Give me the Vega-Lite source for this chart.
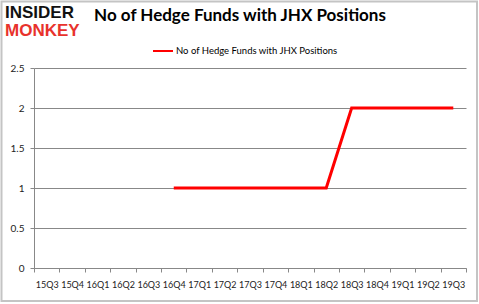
{
  "$schema": "https://vega.github.io/schema/vega-lite/v6.json",
  "width": 432,
  "height": 200,
  "autosize": {"type": "none"},
  "padding": {"left": 34, "top": 68, "right": 13, "bottom": 36},
  "background": "white",
  "title": {"text": "No of Hedge Funds with JHX Positions", "font": "Lato", "fontSize": 17, "fontWeight": "bold", "color": "#000000", "anchor": "middle", "frame": "group", "offset": -24, "dx": -10},
  "config": {
    "view": {"stroke": null},
    "axis": {"labelFont": "Lato", "labelFontSize": 9, "labelColor": "#222222", "domainColor": "#888888", "tickColor": "#888888", "gridColor": "#888888", "title": null}
  },
  "data": {"values": [
    {"q": "15Q3", "v": null}, {"q": "15Q4", "v": null}, {"q": "16Q1", "v": null}, {"q": "16Q2", "v": null},
    {"q": "16Q3", "v": null}, {"q": "16Q4", "v": 1}, {"q": "17Q1", "v": 1}, {"q": "17Q2", "v": 1},
    {"q": "17Q3", "v": 1}, {"q": "17Q4", "v": 1}, {"q": "18Q1", "v": 1}, {"q": "18Q2", "v": 1},
    {"q": "18Q3", "v": 2}, {"q": "18Q4", "v": 2}, {"q": "19Q1", "v": 2}, {"q": "19Q2", "v": 2}, {"q": "19Q3", "v": 2}
  ]},
  "layer": [
    {
      "data": {"values": [{"t": "frame"}]},
      "mark": {"type": "rect", "fill": null, "stroke": "#c4c4c4", "strokeWidth": 2, "clip": false},
      "encoding": {"x": {"value": -32.5}, "x2": {"value": 443}, "y": {"value": -66.5}, "y2": {"value": 233}}
    },
    {
      "mark": {"type": "line", "strokeWidth": 3},
      "encoding": {
        "x": {"field": "q", "type": "ordinal", "sort": null,
              "scale": {"type": "band", "paddingInner": 0, "paddingOuter": 0, "domain": ["15Q3","15Q4","16Q1","16Q2","16Q3","16Q4","17Q1","17Q2","17Q3","17Q4","18Q1","18Q2","18Q3","18Q4","19Q1","19Q2","19Q3"]},
              "axis": {"labelAngle": 0, "tickBand": "extent", "tickSize": 4, "labelPadding": 8, "grid": false, "labelOverlap": false}},
        "y": {"field": "v", "type": "quantitative", "scale": {"domain": [0, 2.5]},
              "axis": {"values": [0, 0.5, 1, 1.5, 2, 2.5], "format": "~g", "tickSize": 4, "labelPadding": 6, "grid": true, "labelFontSize": 10}},
        "color": {"datum": "No of Hedge Funds with JHX Positions", "type": "nominal",
                  "scale": {"range": ["#ff0000"]},
                  "legend": {"title": null, "orient": "none", "legendX": 118, "legendY": -28, "symbolType": "stroke", "symbolSize": 400, "symbolStrokeWidth": 2, "labelOffset": 2, "labelFont": "Lato", "labelFontSize": 9.5, "labelLimit": 300, "labelColor": "#000000"}}
      }
    },
    {
      "data": {"values": [{"t": "INSIDER"}]},
      "mark": {"type": "text", "font": "Liberation Sans", "fontWeight": "bold", "fontSize": 17, "align": "left", "baseline": "alphabetic", "color": "#111111"},
      "encoding": {"text": {"field": "t"}, "x": {"value": -29}, "y": {"value": -50}}
    },
    {
      "data": {"values": [{"t": "MONKEY"}]},
      "mark": {"type": "text", "font": "Liberation Sans", "fontWeight": "bold", "fontSize": 17, "align": "left", "baseline": "alphabetic", "color": "#e8322c"},
      "encoding": {"text": {"field": "t"}, "x": {"value": -29}, "y": {"value": -32}}
    }
  ]
}
